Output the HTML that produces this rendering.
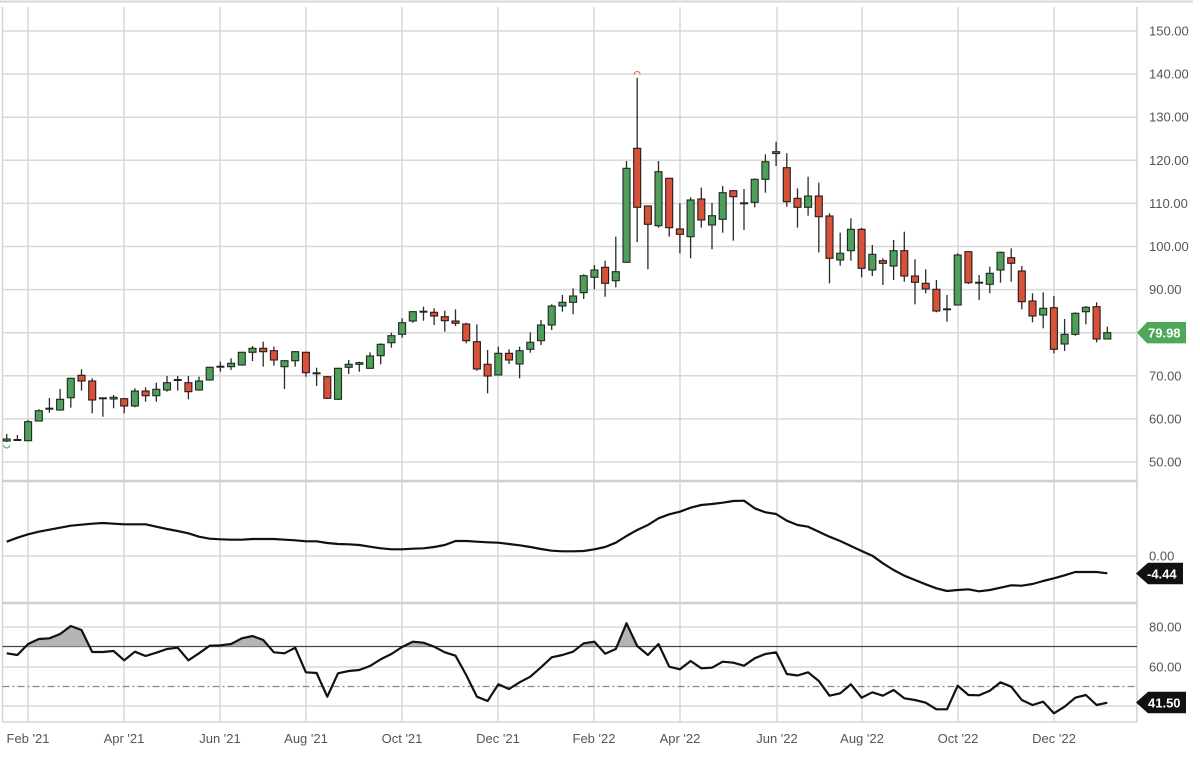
<!DOCTYPE html>
<html><head><meta charset="utf-8">
<style>
html,body{margin:0;padding:0;background:#fff;}
svg{display:block;}
text{font-family:"Liberation Sans",sans-serif;}
</style></head>
<body>
<svg width="1200" height="758" viewBox="0 0 1200 758" xmlns="http://www.w3.org/2000/svg">
<rect width="1200" height="758" fill="#fff"/>
<line x1="0" y1="1.5" x2="1193" y2="1.5" stroke="#d6d6d6" stroke-width="2"/>
<line x1="2.5" y1="7" x2="2.5" y2="722" stroke="#d6d6d6" stroke-width="1.5"/>
<line x1="1137" y1="7" x2="1137" y2="722" stroke="#d0d0d0" stroke-width="1.5"/>
<g stroke="#d8d8d8" stroke-width="1.5">
<line x1="28" y1="7" x2="28" y2="722"/>
<line x1="124" y1="7" x2="124" y2="722"/>
<line x1="220" y1="7" x2="220" y2="722"/>
<line x1="306" y1="7" x2="306" y2="722"/>
<line x1="402" y1="7" x2="402" y2="722"/>
<line x1="498" y1="7" x2="498" y2="722"/>
<line x1="594" y1="7" x2="594" y2="722"/>
<line x1="680" y1="7" x2="680" y2="722"/>
<line x1="777" y1="7" x2="777" y2="722"/>
<line x1="862" y1="7" x2="862" y2="722"/>
<line x1="958" y1="7" x2="958" y2="722"/>
<line x1="1054" y1="7" x2="1054" y2="722"/>
</g>
<g stroke="#d8d8d8" stroke-width="1.5">
<line x1="2.5" y1="31" x2="1137" y2="31"/>
<line x1="2.5" y1="74.1" x2="1137" y2="74.1"/>
<line x1="2.5" y1="117.2" x2="1137" y2="117.2"/>
<line x1="2.5" y1="160.3" x2="1137" y2="160.3"/>
<line x1="2.5" y1="203.4" x2="1137" y2="203.4"/>
<line x1="2.5" y1="246.5" x2="1137" y2="246.5"/>
<line x1="2.5" y1="289.6" x2="1137" y2="289.6"/>
<line x1="2.5" y1="332.7" x2="1137" y2="332.7"/>
<line x1="2.5" y1="375.8" x2="1137" y2="375.8"/>
<line x1="2.5" y1="418.9" x2="1137" y2="418.9"/>
<line x1="2.5" y1="462" x2="1137" y2="462"/>
<line x1="2.5" y1="556" x2="1137" y2="556"/>
<line x1="2.5" y1="627" x2="1137" y2="627"/>
<line x1="2.5" y1="667" x2="1137" y2="667"/>
<line x1="2.5" y1="706" x2="1137" y2="706"/>
</g>
<line x1="2.5" y1="481" x2="1137" y2="481" stroke="#cfcfcf" stroke-width="2.5"/>
<line x1="2.5" y1="603" x2="1137" y2="603" stroke="#cfcfcf" stroke-width="2.5"/>
<line x1="2.5" y1="722" x2="1137" y2="722" stroke="#d6d6d6" stroke-width="1.5"/>
<line x1="2.5" y1="646.5" x2="1137" y2="646.5" stroke="#444" stroke-width="1.2"/>
<line x1="2.5" y1="686.5" x2="1137" y2="686.5" stroke="#888" stroke-width="1.2" stroke-dasharray="7,3,2,3"/>

<g stroke="#2a2a2a" stroke-width="1.3">
<line x1="6.7" y1="434" x2="6.7" y2="442"/>
<line x1="17.4" y1="435" x2="17.4" y2="441"/>
<line x1="28.1" y1="420" x2="28.1" y2="440.7"/>
<line x1="38.8" y1="409.3" x2="38.8" y2="421"/>
<line x1="49.4" y1="398" x2="49.4" y2="412.7"/>
<line x1="60.1" y1="389" x2="60.1" y2="410.7"/>
<line x1="70.8" y1="377.7" x2="70.8" y2="407.7"/>
<line x1="81.5" y1="369.3" x2="81.5" y2="390.7"/>
<line x1="92.2" y1="378.3" x2="92.2" y2="413.3"/>
<line x1="102.9" y1="397.7" x2="102.9" y2="416.7"/>
<line x1="113.6" y1="395" x2="113.6" y2="408.3"/>
<line x1="124.2" y1="398" x2="124.2" y2="413.3"/>
<line x1="134.9" y1="388.3" x2="134.9" y2="407.3"/>
<line x1="145.6" y1="387.3" x2="145.6" y2="401.7"/>
<line x1="156.3" y1="382.7" x2="156.3" y2="401.7"/>
<line x1="167" y1="376" x2="167" y2="391.7"/>
<line x1="177.7" y1="376" x2="177.7" y2="390.7"/>
<line x1="188.4" y1="376" x2="188.4" y2="399.3"/>
<line x1="199" y1="376.7" x2="199" y2="390.7"/>
<line x1="209.7" y1="366.7" x2="209.7" y2="380.7"/>
<line x1="220.4" y1="361.7" x2="220.4" y2="371.7"/>
<line x1="231.1" y1="358.3" x2="231.1" y2="370"/>
<line x1="241.8" y1="351.7" x2="241.8" y2="365.7"/>
<line x1="252.5" y1="346" x2="252.5" y2="361"/>
<line x1="263.2" y1="341.7" x2="263.2" y2="366.7"/>
<line x1="273.9" y1="346.7" x2="273.9" y2="365.7"/>
<line x1="284.5" y1="360" x2="284.5" y2="389"/>
<line x1="295.2" y1="351" x2="295.2" y2="366.7"/>
<line x1="305.9" y1="351.7" x2="305.9" y2="376.7"/>
<line x1="316.6" y1="367.7" x2="316.6" y2="386"/>
<line x1="327.3" y1="376" x2="327.3" y2="399"/>
<line x1="338" y1="367.7" x2="338" y2="400"/>
<line x1="348.7" y1="360" x2="348.7" y2="374"/>
<line x1="359.3" y1="361.7" x2="359.3" y2="371.7"/>
<line x1="370" y1="352.3" x2="370" y2="369"/>
<line x1="380.7" y1="343.3" x2="380.7" y2="364.3"/>
<line x1="391.4" y1="332.7" x2="391.4" y2="347.7"/>
<line x1="402.1" y1="318.3" x2="402.1" y2="337.7"/>
<line x1="412.8" y1="311" x2="412.8" y2="322.7"/>
<line x1="423.5" y1="306.7" x2="423.5" y2="320.7"/>
<line x1="434.1" y1="308.3" x2="434.1" y2="325"/>
<line x1="444.8" y1="310.7" x2="444.8" y2="331.7"/>
<line x1="455.5" y1="309.3" x2="455.5" y2="326"/>
<line x1="466.2" y1="322.7" x2="466.2" y2="343.3"/>
<line x1="476.9" y1="324.3" x2="476.9" y2="370.7"/>
<line x1="487.6" y1="350" x2="487.6" y2="393.3"/>
<line x1="498.3" y1="346.7" x2="498.3" y2="375"/>
<line x1="509" y1="349.3" x2="509" y2="364"/>
<line x1="519.6" y1="346.7" x2="519.6" y2="378.3"/>
<line x1="530.3" y1="332.3" x2="530.3" y2="352.7"/>
<line x1="541" y1="320" x2="541" y2="345"/>
<line x1="551.7" y1="304.3" x2="551.7" y2="330"/>
<line x1="562.4" y1="295" x2="562.4" y2="311.7"/>
<line x1="573.1" y1="288.3" x2="573.1" y2="314.3"/>
<line x1="583.7" y1="274.3" x2="583.7" y2="299"/>
<line x1="594.4" y1="265" x2="594.4" y2="289.3"/>
<line x1="605.1" y1="260.7" x2="605.1" y2="296.7"/>
<line x1="615.8" y1="236.7" x2="615.8" y2="287.3"/>
<line x1="626.5" y1="161" x2="626.5" y2="262.3"/>
<line x1="637.2" y1="77.7" x2="637.2" y2="242.3"/>
<line x1="647.9" y1="206" x2="647.9" y2="269.3"/>
<line x1="658.5" y1="161" x2="658.5" y2="227.7"/>
<line x1="669.2" y1="178.3" x2="669.2" y2="236.7"/>
<line x1="679.9" y1="203.3" x2="679.9" y2="253.3"/>
<line x1="690.6" y1="197.3" x2="690.6" y2="258.3"/>
<line x1="701.3" y1="187.7" x2="701.3" y2="227.7"/>
<line x1="712" y1="202.7" x2="712" y2="249.3"/>
<line x1="722.7" y1="186" x2="722.7" y2="232.7"/>
<line x1="733.3" y1="190" x2="733.3" y2="240.7"/>
<line x1="744" y1="189" x2="744" y2="230"/>
<line x1="754.7" y1="178.3" x2="754.7" y2="207.3"/>
<line x1="765.4" y1="154.3" x2="765.4" y2="192.7"/>
<line x1="776.1" y1="141.7" x2="776.1" y2="166"/>
<line x1="786.8" y1="153.3" x2="786.8" y2="206.7"/>
<line x1="797.5" y1="188.3" x2="797.5" y2="227.7"/>
<line x1="808.1" y1="176.7" x2="808.1" y2="215.7"/>
<line x1="818.8" y1="182.7" x2="818.8" y2="252.3"/>
<line x1="829.5" y1="213.3" x2="829.5" y2="283.3"/>
<line x1="840.2" y1="232.7" x2="840.2" y2="265.7"/>
<line x1="850.9" y1="218.3" x2="850.9" y2="260.7"/>
<line x1="861.6" y1="227.7" x2="861.6" y2="277.3"/>
<line x1="872.3" y1="245" x2="872.3" y2="276"/>
<line x1="882.9" y1="258.3" x2="882.9" y2="285"/>
<line x1="893.6" y1="240" x2="893.6" y2="280"/>
<line x1="904.3" y1="231.7" x2="904.3" y2="281.7"/>
<line x1="915" y1="259.3" x2="915" y2="304.3"/>
<line x1="925.7" y1="269.3" x2="925.7" y2="293.3"/>
<line x1="936.4" y1="280" x2="936.4" y2="312.3"/>
<line x1="947" y1="295" x2="947" y2="321.7"/>
<line x1="957.7" y1="253.3" x2="957.7" y2="305"/>
<line x1="968.4" y1="251.7" x2="968.4" y2="284"/>
<line x1="979.1" y1="275" x2="979.1" y2="300"/>
<line x1="989.8" y1="266.7" x2="989.8" y2="293.3"/>
<line x1="1000.5" y1="251.7" x2="1000.5" y2="282.7"/>
<line x1="1011.2" y1="248.3" x2="1011.2" y2="281.7"/>
<line x1="1021.8" y1="266" x2="1021.8" y2="309.3"/>
<line x1="1032.5" y1="293.3" x2="1032.5" y2="322.3"/>
<line x1="1043.2" y1="292.3" x2="1043.2" y2="328.3"/>
<line x1="1053.9" y1="296" x2="1053.9" y2="353.3"/>
<line x1="1064.6" y1="319" x2="1064.6" y2="351"/>
<line x1="1075.3" y1="312.3" x2="1075.3" y2="335.7"/>
<line x1="1085.9" y1="306" x2="1085.9" y2="324.3"/>
<line x1="1096.6" y1="302.3" x2="1096.6" y2="342.3"/>
<line x1="1107.3" y1="326.7" x2="1107.3" y2="339"/>
</g>
<g fill="#4f9e5b" stroke="#1f2a1f" stroke-width="1.1">
<rect x="3.2" y="439" width="7" height="2"/>
<rect x="24.6" y="421.7" width="7" height="19"/>
<rect x="35.3" y="410.7" width="7" height="10.3"/>
<rect x="56.6" y="399.3" width="7" height="10.7"/>
<rect x="67.3" y="378.3" width="7" height="19.4"/>
<rect x="110.1" y="397.3" width="7" height="1.7"/>
<rect x="131.4" y="391" width="7" height="15"/>
<rect x="152.8" y="389.3" width="7" height="6.4"/>
<rect x="163.5" y="382.7" width="7" height="7.3"/>
<rect x="195.5" y="381" width="7" height="9"/>
<rect x="206.2" y="367.3" width="7" height="12.7"/>
<rect x="227.6" y="363.3" width="7" height="3.4"/>
<rect x="238.3" y="352.3" width="7" height="12.7"/>
<rect x="249" y="348.3" width="7" height="4"/>
<rect x="281" y="360.7" width="7" height="6"/>
<rect x="291.7" y="351.7" width="7" height="9"/>
<rect x="334.5" y="368.3" width="7" height="31"/>
<rect x="345.2" y="364.3" width="7" height="3"/>
<rect x="355.8" y="362.7" width="7" height="1.6"/>
<rect x="366.5" y="356" width="7" height="12.3"/>
<rect x="377.2" y="344.3" width="7" height="11.4"/>
<rect x="387.9" y="335.7" width="7" height="7"/>
<rect x="398.6" y="322.7" width="7" height="11.6"/>
<rect x="409.3" y="311.7" width="7" height="9.3"/>
<rect x="494.8" y="353.3" width="7" height="21.7"/>
<rect x="516.1" y="350.7" width="7" height="13.3"/>
<rect x="526.8" y="342.3" width="7" height="7"/>
<rect x="537.5" y="325" width="7" height="15.7"/>
<rect x="548.2" y="306" width="7" height="19"/>
<rect x="558.9" y="302.3" width="7" height="3.7"/>
<rect x="569.6" y="296" width="7" height="6.3"/>
<rect x="580.2" y="275.7" width="7" height="17"/>
<rect x="590.9" y="270" width="7" height="7.3"/>
<rect x="612.3" y="271.7" width="7" height="9"/>
<rect x="623" y="168.3" width="7" height="94"/>
<rect x="655" y="171.7" width="7" height="54"/>
<rect x="687.1" y="200" width="7" height="36.7"/>
<rect x="708.5" y="215.7" width="7" height="9.3"/>
<rect x="719.2" y="192.7" width="7" height="26.6"/>
<rect x="751.2" y="179.3" width="7" height="23"/>
<rect x="761.9" y="161.7" width="7" height="17.6"/>
<rect x="772.6" y="151.7" width="7" height="1.8"/>
<rect x="804.6" y="196" width="7" height="11.3"/>
<rect x="836.7" y="253.3" width="7" height="6.7"/>
<rect x="847.4" y="229.3" width="7" height="21.4"/>
<rect x="868.8" y="254.3" width="7" height="15.7"/>
<rect x="890.1" y="250.7" width="7" height="15.3"/>
<rect x="954.2" y="255" width="7" height="50"/>
<rect x="986.3" y="273.3" width="7" height="11"/>
<rect x="997" y="252.3" width="7" height="17.7"/>
<rect x="1039.7" y="308.3" width="7" height="6.7"/>
<rect x="1061.1" y="334.3" width="7" height="9.7"/>
<rect x="1071.8" y="313.3" width="7" height="21"/>
<rect x="1082.4" y="307.3" width="7" height="4.4"/>
<rect x="1103.8" y="332.7" width="7" height="6.3"/>
</g>
<g fill="#d6523b" stroke="#2a1a18" stroke-width="1.1">
<rect x="78" y="375.3" width="7" height="5.7"/>
<rect x="88.7" y="381" width="7" height="19"/>
<rect x="120.7" y="398.7" width="7" height="7.3"/>
<rect x="142.1" y="391" width="7" height="4.7"/>
<rect x="184.9" y="382.7" width="7" height="9"/>
<rect x="259.7" y="348.3" width="7" height="3.4"/>
<rect x="270.4" y="350.7" width="7" height="9.3"/>
<rect x="302.4" y="352.3" width="7" height="20.4"/>
<rect x="323.8" y="376.7" width="7" height="21.6"/>
<rect x="430.6" y="312.3" width="7" height="3.7"/>
<rect x="441.3" y="316.7" width="7" height="4"/>
<rect x="452" y="321" width="7" height="2.3"/>
<rect x="462.7" y="324" width="7" height="16.7"/>
<rect x="473.4" y="341.7" width="7" height="27.3"/>
<rect x="484.1" y="364.3" width="7" height="11.7"/>
<rect x="505.5" y="353.3" width="7" height="6.7"/>
<rect x="601.6" y="267.3" width="7" height="16"/>
<rect x="633.7" y="148.3" width="7" height="59"/>
<rect x="644.4" y="206" width="7" height="18.3"/>
<rect x="665.7" y="178.3" width="7" height="49.4"/>
<rect x="676.4" y="229" width="7" height="5.3"/>
<rect x="697.8" y="199" width="7" height="21"/>
<rect x="729.8" y="190.7" width="7" height="6"/>
<rect x="783.3" y="167.7" width="7" height="34"/>
<rect x="794" y="198.3" width="7" height="9"/>
<rect x="815.3" y="196" width="7" height="20.7"/>
<rect x="826" y="216" width="7" height="42.3"/>
<rect x="858.1" y="229.3" width="7" height="39"/>
<rect x="879.4" y="260.7" width="7" height="2.6"/>
<rect x="900.8" y="250.7" width="7" height="25.3"/>
<rect x="911.5" y="276" width="7" height="6.3"/>
<rect x="922.2" y="283.3" width="7" height="5.7"/>
<rect x="932.9" y="289.3" width="7" height="21.7"/>
<rect x="964.9" y="251.7" width="7" height="31"/>
<rect x="1007.7" y="257.7" width="7" height="5.6"/>
<rect x="1018.3" y="271" width="7" height="30.7"/>
<rect x="1029" y="301" width="7" height="15"/>
<rect x="1050.4" y="307.7" width="7" height="41.6"/>
<rect x="1093.1" y="306.7" width="7" height="32.3"/>
</g>
<g stroke="#222" stroke-width="2">
<line x1="13.4" y1="440" x2="21.4" y2="440"/>
<line x1="45.4" y1="408.7" x2="53.4" y2="408.7"/>
<line x1="98.9" y1="398.3" x2="106.9" y2="398.3"/>
<line x1="173.7" y1="380" x2="181.7" y2="380"/>
<line x1="216.4" y1="366.7" x2="224.4" y2="366.7"/>
<line x1="312.6" y1="373.3" x2="320.6" y2="373.3"/>
<line x1="419.5" y1="311.7" x2="427.5" y2="311.7"/>
<line x1="740" y1="203.3" x2="748" y2="203.3"/>
<line x1="943" y1="309.3" x2="951" y2="309.3"/>
<line x1="975.1" y1="282.7" x2="983.1" y2="282.7"/>
</g>
<path d="M634.2,74.5 A3,3 0 0 1 640.2,74.5" fill="none" stroke="#d9603a" stroke-width="1"/>
<path d="M3.7,445 A3,3 0 0 0 9.7,445" fill="none" stroke="#4f9e5b" stroke-width="1"/>

<polyline fill="none" stroke="#111" stroke-width="2.2" stroke-linejoin="round" points="6.7,541.7 17.4,537.7 28.1,534.3 38.8,531.7 49.4,529.7 60.1,527.7 70.8,525.7 81.5,524.7 92.2,523.7 102.9,523 113.6,523.7 124.2,524.3 134.9,524.3 145.6,524.3 156.3,526.7 167,529 177.7,531 188.4,533.3 199,536.7 209.7,538.7 220.4,539.3 231.1,539.7 241.8,539.7 252.5,539 263.2,539 273.9,539 284.5,539.7 295.2,540.3 305.9,541.3 316.6,541.3 327.3,543 338,544 348.7,544.3 359.3,545 370,546.7 380.7,548.3 391.4,549.3 402.1,549.3 412.8,548.7 423.5,548.3 434.1,547 444.8,545 455.5,541 466.2,541 476.9,541.7 487.6,542.3 498.3,542.7 509,544 519.6,545.3 530.3,547 541,549 551.7,550.7 562.4,551.3 573.1,551.3 583.7,551 594.4,549.3 605.1,547 615.8,542.7 626.5,536 637.2,530 647.9,525 658.5,518.3 669.2,514.3 679.9,511.7 690.6,507.7 701.3,505 712,504 722.7,502.7 733.3,501 744,500.7 754.7,508.3 765.4,512.3 776.1,514 786.8,520.7 797.5,525 808.1,526.7 818.8,531.7 829.5,536.7 840.2,541 850.9,546 861.6,551 872.3,555.7 882.9,563.3 893.6,570 904.3,575.7 915,580 925.7,584.3 936.4,588.3 947,591 957.7,590 968.4,589.3 979.1,591.3 989.8,590 1000.5,587.7 1011.2,585.3 1021.8,585.7 1032.5,584 1043.2,581 1053.9,578.3 1064.6,575.3 1075.3,572 1085.9,572 1096.6,572 1107.3,573.3"/>

<defs>
<clipPath id="ob"><rect x="0" y="603" width="1137" height="43.5"/></clipPath>
</defs>
<path clip-path="url(#ob)" fill="#b4b4b4" d="M6.7,646.5 L6.7,653.3 17.4,655 28.1,644 38.8,639 49.4,638.3 60.1,634 70.8,626 81.5,630 92.2,652 102.9,652 113.6,651 124.2,660.3 134.9,651.7 145.6,656 156.3,652.7 167,649 177.7,647.7 188.4,660.3 199,653.3 209.7,645.7 220.4,645.3 231.1,644 241.8,638.3 252.5,636 263.2,640 273.9,652.3 284.5,653.3 295.2,647.7 305.9,672.3 316.6,673 327.3,696.7 338,673.3 348.7,671 359.3,670 370,666 380.7,659.3 391.4,654 402.1,647 412.8,641.7 423.5,642.7 434.1,646.7 444.8,652.3 455.5,655.7 466.2,675 476.9,696.7 487.6,701 498.3,684.3 509,689 519.6,682.3 530.3,676.7 541,667.3 551.7,657.3 562.4,655 573.1,651.7 583.7,643.3 594.4,641.7 605.1,653.7 615.8,649 626.5,623.3 637.2,646 647.9,655 658.5,644 669.2,666.7 679.9,669.3 L1107.3,669.3 L1107.3,646.5 Z"/>
<polyline fill="none" stroke="#111" stroke-width="2.2" stroke-linejoin="round" points="6.7,653.3 17.4,655 28.1,644 38.8,639 49.4,638.3 60.1,634 70.8,626 81.5,630 92.2,652 102.9,652 113.6,651 124.2,660.3 134.9,651.7 145.6,656 156.3,652.7 167,649 177.7,647.7 188.4,660.3 199,653.3 209.7,645.7 220.4,645.3 231.1,644 241.8,638.3 252.5,636 263.2,640 273.9,652.3 284.5,653.3 295.2,647.7 305.9,672.3 316.6,673 327.3,696.7 338,673.3 348.7,671 359.3,670 370,666 380.7,659.3 391.4,654 402.1,647 412.8,641.7 423.5,642.7 434.1,646.7 444.8,652.3 455.5,655.7 466.2,675 476.9,696.7 487.6,701 498.3,684.3 509,689 519.6,682.3 530.3,676.7 541,667.3 551.7,657.3 562.4,655 573.1,651.7 583.7,643.3 594.4,641.7 605.1,653.7 615.8,649 626.5,623.3 637.2,646 647.9,655 658.5,644 669.2,666.7 679.9,669.3 690.6,661 701.3,668.3 712,667.7 722.7,661.7 733.3,662.7 744,665.7 754.7,658.3 765.4,654 776.1,652.3 786.8,674 797.5,675.5 808.1,672.3 818.8,681 829.5,695.7 840.2,693.3 850.9,684.3 861.6,697.7 872.3,692.3 882.9,695.7 893.6,690 904.3,698.3 915,700 925.7,702.7 936.4,709.3 947,709.3 957.7,685.7 968.4,695 979.1,695.3 989.8,690.7 1000.5,682.3 1011.2,686.7 1021.8,700 1032.5,705 1043.2,701.7 1053.9,713.3 1064.6,706.7 1075.3,697.7 1085.9,695 1096.6,705 1107.3,702.7"/>

<g font-size="13" fill="#555">
<text x="1149" y="35.5">150.00</text>
<text x="1149" y="78.6">140.00</text>
<text x="1149" y="121.7">130.00</text>
<text x="1149" y="164.8">120.00</text>
<text x="1149" y="207.9">110.00</text>
<text x="1149" y="251">100.00</text>
<text x="1149" y="294.1">90.00</text>
<text x="1149" y="380.3">70.00</text>
<text x="1149" y="423.4">60.00</text>
<text x="1149" y="466.5">50.00</text>
<text x="1149" y="560.5">0.00</text>
<text x="1149" y="631.5">80.00</text>
<text x="1149" y="671.5">60.00</text>
</g>
<path d="M1137,332.7 L1147,322 L1186,322 L1186,343.4 L1147,343.4 Z" fill="#4fa85a"/>
<text x="1148" y="337.5" font-size="13" font-weight="bold" fill="#fff">79.98</text>
<path d="M1136,573.5 L1148,562.7 L1183,562.7 L1183,584.3 L1148,584.3 Z" fill="#111"/>
<text x="1147" y="578.3" font-size="13" font-weight="bold" fill="#fff">-4.44</text>
<path d="M1136,702.5 L1148,691.7 L1186,691.7 L1186,713.3 L1148,713.3 Z" fill="#111"/>
<text x="1148" y="707.3" font-size="13" font-weight="bold" fill="#fff">41.50</text>

<g font-size="13" fill="#555" text-anchor="middle">
<text x="28" y="743">Feb '21</text>
<text x="124" y="743">Apr '21</text>
<text x="220" y="743">Jun '21</text>
<text x="306" y="743">Aug '21</text>
<text x="402" y="743">Oct '21</text>
<text x="498" y="743">Dec '21</text>
<text x="594" y="743">Feb '22</text>
<text x="680" y="743">Apr '22</text>
<text x="777" y="743">Jun '22</text>
<text x="862" y="743">Aug '22</text>
<text x="958" y="743">Oct '22</text>
<text x="1054" y="743">Dec '22</text>
</g>
</svg>
</body></html>
